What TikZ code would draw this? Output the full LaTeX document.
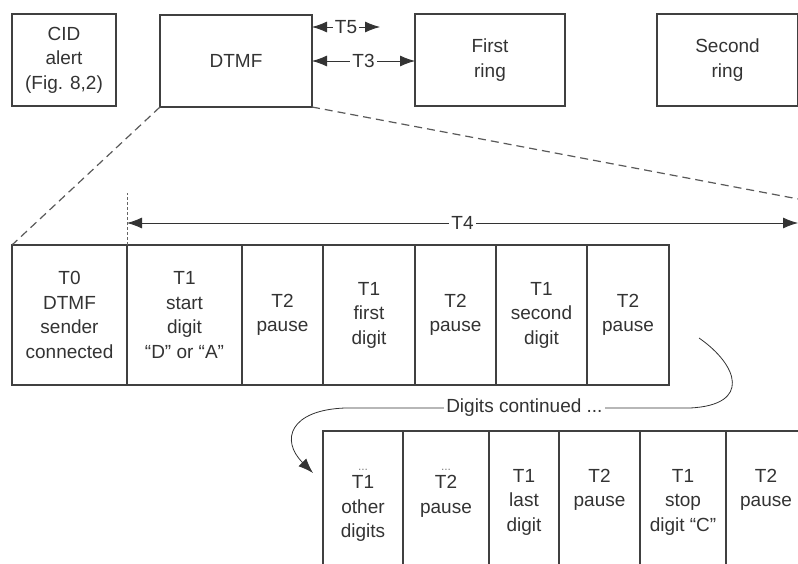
\documentclass[tikz,border=0pt]{standalone}
\usepackage{fontspec}
\setmainfont{Liberation Sans}
\usetikzlibrary{positioning,arrows.meta}

\begin{document}
\begin{tikzpicture}[
    x=1pt, y=-1pt,
    every node/.style={font=\fontsize{19}{24.5}\selectfont, text=black!80},
    topbox/.style={rectangle, draw=black!75, line width=1.2pt, minimum width=#1, minimum height=92pt, align=center, inner sep=0pt, outer sep=0pt, anchor=north west},
    cell/.style={rectangle, draw=black!75, line width=1.2pt, minimum width=#1, minimum height=140pt, align=center, inner sep=0pt, outer sep=0pt},
    r2text/.style={anchor=north, yshift=-38pt, align=center, inner sep=0pt},
    tlabel/.style={fill=white, inner sep=2pt},
    dim/.style={draw=black!80, line width=0.8pt, {Latex[length=15pt,width=11pt]}-{Latex[length=15pt,width=11pt]}},
    zoomline/.style={draw=black!65, line width=1.2pt, dash pattern=on 8pt off 5pt},
    more/.style={draw=black!80, line width=0.8pt, -{Latex[length=15pt,width=11pt]}}
]
\path[use as bounding box, clip] (0,0) rectangle (798,564);

% top row
\node[topbox=104pt] (cid) at (12,14) {CID\\alert\\(Fig. 8,2)};
\node[topbox=152pt] (dtmf) at (160,15) {DTMF};
\node[topbox=150pt] (ring1) at (415,14) {First\\ring};
\node[topbox=141pt] (ring2) at (657,14) {Second\\ring};

\coordinate (t5end) at (380,27);
\draw[dim] ([yshift=-12pt]dtmf.north east) -- node[tlabel]{T5} (t5end);
\draw[dim] (dtmf.east) -- node[tlabel]{T3} (dtmf.east -| ring1.west);

% first part of the DTMF sequence
\node[cell=115pt, anchor=north west] (r1a) at (12,245) {T0\\DTMF\\sender\\connected};
\node[cell=115pt, right=0pt of r1a] (r1b) {T1\\start\\digit\\“D” or “A”};
\node[cell=81pt, right=0pt of r1b] (r1c) {T2\\pause};
\node[cell=92pt, right=0pt of r1c] (r1d) {T1\\first\\digit};
\node[cell=81pt, right=0pt of r1d] (r1e) {T2\\pause};
\node[cell=91pt, right=0pt of r1e] (r1f) {T1\\second\\digit};
\node[cell=82pt, right=0pt of r1f] (r1g) {T2\\pause};

\draw[zoomline] (dtmf.south west) -- (r1a.north west);
\coordinate (zoomend) at (830,205);
\draw[zoomline] (dtmf.south east) -- (zoomend);

\draw[draw=black!60, line width=0.8pt, densely dashed] (r1b.north west) -- ([yshift=52pt]r1b.north west);
\coordinate (t4end) at (798,223);
\draw[dim] ([yshift=22pt]r1b.north west) -- node[tlabel]{T4} (t4end);

% continued digits
\node[cell=80pt, anchor=north west, label={[r2text]north:{{\fontsize{12}{12}\selectfont\color{black!50}...}\\[-6pt]T1\\other\\digits}}] (r2a) at (323,431) {};
\node[cell=86pt, right=0pt of r2a, label={[r2text]north:{{\fontsize{12}{12}\selectfont\color{black!50}...}\\[-6pt]T2\\pause}}] (r2b) {};
\node[cell=70pt, right=0pt of r2b, label={[r2text]north:{T1\\last\\digit}}] (r2c) {};
\node[cell=81pt, right=0pt of r2c, label={[r2text]north:{T2\\pause}}] (r2d) {};
\node[cell=86pt, right=0pt of r2d, label={[r2text]north:{T1\\stop\\digit “C”}}] (r2e) {};
\node[cell=80pt, right=0pt of r2e, label={[r2text]north:{T2\\pause}}] (r2f) {};

\coordinate (contstart) at (699,338);
\coordinate (contend) at (313,473);
\draw[more] (contstart) .. controls (738,365) and (752,405) .. (690,408)
    -- node[tlabel, pos=0.48]{Digits continued ...} (345,408)
    .. controls (290,410) and (280,440) .. (contend);

\end{tikzpicture}
\end{document}
